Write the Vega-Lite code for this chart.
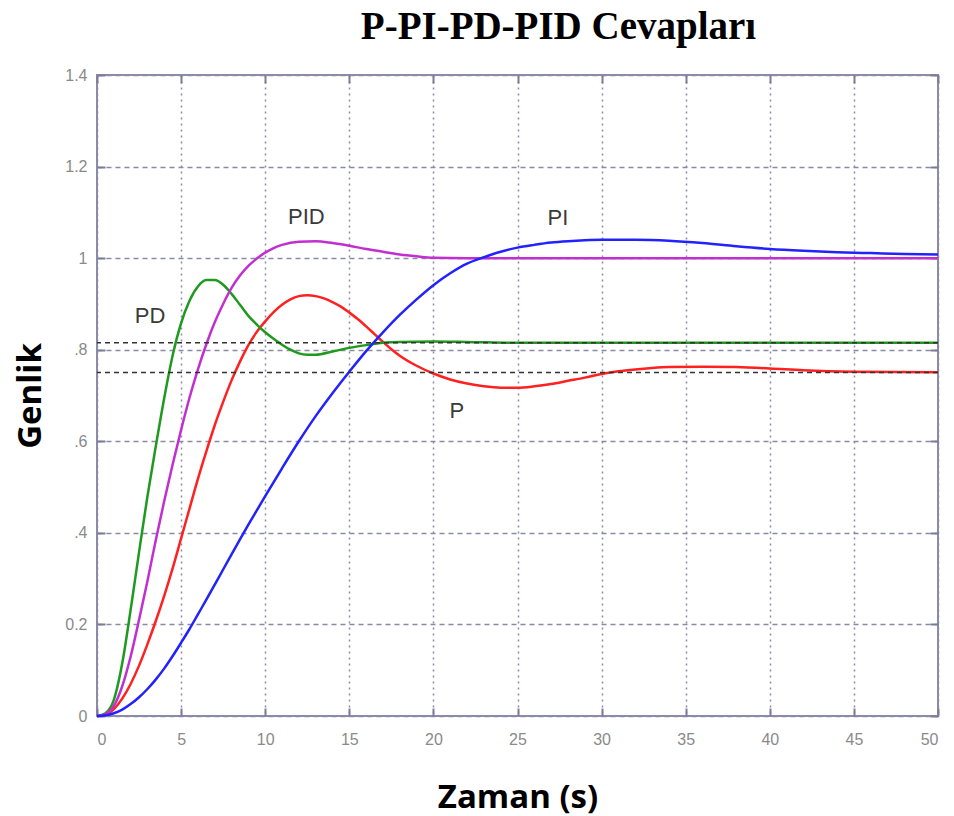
{
  "$schema": "https://vega.github.io/schema/vega-lite/v6.json",
  "autosize": "none",
  "width": 841,
  "height": 641,
  "padding": {"left": 97, "top": 75, "right": 16, "bottom": 100},
  "background": "white",
  "title": {
    "text": "P-PI-PD-PID Cevapları",
    "font": "Liberation Serif",
    "fontSize": 39,
    "fontWeight": "bold",
    "color": "#000000",
    "anchor": "middle",
    "dx": 41,
    "offset": 20
  },
  "config": {
    "view": {"stroke": "#8c8caa", "strokeWidth": 2},
    "axis": {
      "labelFont": "Liberation Sans",
      "labelFontSize": 16,
      "labelColor": "#8a8a8a",
      "titleFont": "Open Sans",
      "titleFontWeight": "bold",
      "titleFontSize": 33,
      "titleColor": "#000000",
      "domain": false,
      "tickColor": "#7c7c9a",
      "tickWidth": 2,
      "tickSize": -8,
      "gridColor": "#8a8aa6",
      "gridWidth": 1.5,
      "gridOpacity": 1
    }
  },
  "datasets": {
    "curves": [
      {"t": 0, "v": 0, "s": "P"}, {"t": 0.5, "v": 0.002, "s": "P"}, {"t": 1, "v": 0.015, "s": "P"}, {"t": 1.5, "v": 0.038, "s": "P"}, {"t": 2, "v": 0.07, "s": "P"}, {"t": 2.5, "v": 0.11, "s": "P"}, {"t": 3, "v": 0.157, "s": "P"}, {"t": 3.5, "v": 0.208, "s": "P"}, {"t": 4, "v": 0.263, "s": "P"}, {"t": 4.5, "v": 0.323, "s": "P"}, {"t": 5, "v": 0.388, "s": "P"}, {"t": 5.5, "v": 0.453, "s": "P"}, {"t": 6, "v": 0.518, "s": "P"}, {"t": 6.5, "v": 0.578, "s": "P"}, {"t": 7, "v": 0.635, "s": "P"}, {"t": 7.5, "v": 0.686, "s": "P"}, {"t": 8, "v": 0.733, "s": "P"}, {"t": 8.5, "v": 0.774, "s": "P"}, {"t": 9, "v": 0.81, "s": "P"}, {"t": 9.5, "v": 0.839, "s": "P"}, {"t": 10, "v": 0.862, "s": "P"}, {"t": 10.5, "v": 0.882, "s": "P"}, {"t": 11, "v": 0.898, "s": "P"}, {"t": 11.5, "v": 0.91, "s": "P"}, {"t": 12, "v": 0.917, "s": "P"}, {"t": 12.5, "v": 0.919, "s": "P"}, {"t": 13, "v": 0.917, "s": "P"}, {"t": 13.5, "v": 0.912, "s": "P"}, {"t": 14, "v": 0.904, "s": "P"}, {"t": 14.5, "v": 0.894, "s": "P"}, {"t": 15, "v": 0.881, "s": "P"}, {"t": 15.5, "v": 0.867, "s": "P"}, {"t": 16, "v": 0.851, "s": "P"}, {"t": 16.5, "v": 0.834, "s": "P"}, {"t": 17, "v": 0.817, "s": "P"}, {"t": 17.5, "v": 0.801, "s": "P"}, {"t": 18, "v": 0.787, "s": "P"}, {"t": 19, "v": 0.765, "s": "P"}, {"t": 20, "v": 0.748, "s": "P"}, {"t": 21, "v": 0.735, "s": "P"}, {"t": 22, "v": 0.726, "s": "P"}, {"t": 23, "v": 0.72, "s": "P"}, {"t": 24, "v": 0.717, "s": "P"}, {"t": 25, "v": 0.717, "s": "P"}, {"t": 26, "v": 0.72, "s": "P"}, {"t": 27, "v": 0.725, "s": "P"}, {"t": 28, "v": 0.732, "s": "P"}, {"t": 29, "v": 0.739, "s": "P"}, {"t": 30, "v": 0.747, "s": "P"}, {"t": 31, "v": 0.753, "s": "P"}, {"t": 32, "v": 0.757, "s": "P"}, {"t": 33, "v": 0.76, "s": "P"}, {"t": 34, "v": 0.762, "s": "P"}, {"t": 36, "v": 0.763, "s": "P"}, {"t": 38, "v": 0.762, "s": "P"}, {"t": 40, "v": 0.759, "s": "P"}, {"t": 42, "v": 0.755, "s": "P"}, {"t": 45, "v": 0.752, "s": "P"}, {"t": 50, "v": 0.751, "s": "P"},
      {"t": 0, "v": 0, "s": "PD"}, {"t": 0.5, "v": 0.006, "s": "PD"}, {"t": 1, "v": 0.035, "s": "PD"}, {"t": 1.5, "v": 0.115, "s": "PD"}, {"t": 2, "v": 0.232, "s": "PD"}, {"t": 2.5, "v": 0.358, "s": "PD"}, {"t": 3, "v": 0.48, "s": "PD"}, {"t": 3.5, "v": 0.59, "s": "PD"}, {"t": 4, "v": 0.695, "s": "PD"}, {"t": 4.5, "v": 0.788, "s": "PD"}, {"t": 5, "v": 0.858, "s": "PD"}, {"t": 5.5, "v": 0.907, "s": "PD"}, {"t": 6, "v": 0.938, "s": "PD"}, {"t": 6.5, "v": 0.952, "s": "PD"}, {"t": 7, "v": 0.952, "s": "PD"}, {"t": 7.5, "v": 0.942, "s": "PD"}, {"t": 8, "v": 0.922, "s": "PD"}, {"t": 8.5, "v": 0.898, "s": "PD"}, {"t": 9, "v": 0.874, "s": "PD"}, {"t": 9.5, "v": 0.855, "s": "PD"}, {"t": 10, "v": 0.838, "s": "PD"}, {"t": 10.5, "v": 0.824, "s": "PD"}, {"t": 11, "v": 0.811, "s": "PD"}, {"t": 11.5, "v": 0.8, "s": "PD"}, {"t": 12, "v": 0.792, "s": "PD"}, {"t": 12.5, "v": 0.789, "s": "PD"}, {"t": 13, "v": 0.789, "s": "PD"}, {"t": 14, "v": 0.796, "s": "PD"}, {"t": 15, "v": 0.804, "s": "PD"}, {"t": 16, "v": 0.81, "s": "PD"}, {"t": 17, "v": 0.815, "s": "PD"}, {"t": 18, "v": 0.817, "s": "PD"}, {"t": 20, "v": 0.818, "s": "PD"}, {"t": 22, "v": 0.817, "s": "PD"}, {"t": 25, "v": 0.815, "s": "PD"}, {"t": 50, "v": 0.815, "s": "PD"},
      {"t": 0, "v": 0, "s": "PID"}, {"t": 0.5, "v": 0.004, "s": "PID"}, {"t": 1, "v": 0.022, "s": "PID"}, {"t": 1.5, "v": 0.065, "s": "PID"}, {"t": 2, "v": 0.13, "s": "PID"}, {"t": 2.5, "v": 0.21, "s": "PID"}, {"t": 3, "v": 0.295, "s": "PID"}, {"t": 3.5, "v": 0.385, "s": "PID"}, {"t": 4, "v": 0.47, "s": "PID"}, {"t": 4.5, "v": 0.55, "s": "PID"}, {"t": 5, "v": 0.625, "s": "PID"}, {"t": 5.5, "v": 0.695, "s": "PID"}, {"t": 6, "v": 0.757, "s": "PID"}, {"t": 6.5, "v": 0.812, "s": "PID"}, {"t": 7, "v": 0.86, "s": "PID"}, {"t": 7.5, "v": 0.9, "s": "PID"}, {"t": 8, "v": 0.935, "s": "PID"}, {"t": 8.5, "v": 0.962, "s": "PID"}, {"t": 9, "v": 0.983, "s": "PID"}, {"t": 9.5, "v": 0.999, "s": "PID"}, {"t": 10, "v": 1.012, "s": "PID"}, {"t": 10.5, "v": 1.022, "s": "PID"}, {"t": 11, "v": 1.029, "s": "PID"}, {"t": 12, "v": 1.036, "s": "PID"}, {"t": 13, "v": 1.037, "s": "PID"}, {"t": 14, "v": 1.033, "s": "PID"}, {"t": 15, "v": 1.027, "s": "PID"}, {"t": 16, "v": 1.02, "s": "PID"}, {"t": 17, "v": 1.014, "s": "PID"}, {"t": 18, "v": 1.008, "s": "PID"}, {"t": 19, "v": 1.004, "s": "PID"}, {"t": 20, "v": 1.001, "s": "PID"}, {"t": 22, "v": 1.0, "s": "PID"}, {"t": 50, "v": 1.0, "s": "PID"},
      {"t": 0, "v": 0, "s": "PI"}, {"t": 0.5, "v": 0.0015, "s": "PI"}, {"t": 1, "v": 0.006, "s": "PI"}, {"t": 1.5, "v": 0.014, "s": "PI"}, {"t": 2, "v": 0.026, "s": "PI"}, {"t": 2.5, "v": 0.041, "s": "PI"}, {"t": 3, "v": 0.059, "s": "PI"}, {"t": 3.5, "v": 0.08, "s": "PI"}, {"t": 4, "v": 0.104, "s": "PI"}, {"t": 4.5, "v": 0.131, "s": "PI"}, {"t": 5, "v": 0.16, "s": "PI"}, {"t": 5.5, "v": 0.19, "s": "PI"}, {"t": 6, "v": 0.222, "s": "PI"}, {"t": 6.5, "v": 0.254, "s": "PI"}, {"t": 7, "v": 0.287, "s": "PI"}, {"t": 7.5, "v": 0.32, "s": "PI"}, {"t": 8, "v": 0.353, "s": "PI"}, {"t": 8.5, "v": 0.386, "s": "PI"}, {"t": 9, "v": 0.418, "s": "PI"}, {"t": 9.5, "v": 0.449, "s": "PI"}, {"t": 10, "v": 0.48, "s": "PI"}, {"t": 11, "v": 0.541, "s": "PI"}, {"t": 12, "v": 0.6, "s": "PI"}, {"t": 13, "v": 0.655, "s": "PI"}, {"t": 14, "v": 0.705, "s": "PI"}, {"t": 15, "v": 0.752, "s": "PI"}, {"t": 16, "v": 0.797, "s": "PI"}, {"t": 17, "v": 0.838, "s": "PI"}, {"t": 18, "v": 0.876, "s": "PI"}, {"t": 19, "v": 0.91, "s": "PI"}, {"t": 20, "v": 0.941, "s": "PI"}, {"t": 21, "v": 0.967, "s": "PI"}, {"t": 22, "v": 0.988, "s": "PI"}, {"t": 23, "v": 1.002, "s": "PI"}, {"t": 24, "v": 1.014, "s": "PI"}, {"t": 25, "v": 1.023, "s": "PI"}, {"t": 26, "v": 1.029, "s": "PI"}, {"t": 27, "v": 1.034, "s": "PI"}, {"t": 28, "v": 1.037, "s": "PI"}, {"t": 29, "v": 1.039, "s": "PI"}, {"t": 30, "v": 1.04, "s": "PI"}, {"t": 32, "v": 1.04, "s": "PI"}, {"t": 34, "v": 1.038, "s": "PI"}, {"t": 36, "v": 1.033, "s": "PI"}, {"t": 38, "v": 1.026, "s": "PI"}, {"t": 40, "v": 1.02, "s": "PI"}, {"t": 42, "v": 1.016, "s": "PI"}, {"t": 44, "v": 1.013, "s": "PI"}, {"t": 46, "v": 1.011, "s": "PI"}, {"t": 48, "v": 1.009, "s": "PI"}, {"t": 50, "v": 1.008, "s": "PI"}
    ],
    "levels": [{"v": 0.815}, {"v": 0.75}],
    "labels": [
      {"t": 3.15, "v": 0.874, "label": "PD"},
      {"t": 12.45, "v": 1.09, "label": "PID"},
      {"t": 27.4, "v": 1.088, "label": "PI"},
      {"t": 21.4, "v": 0.666, "label": "P"}
    ]
  },
  "resolve": {"axis": {"x": "independent", "y": "independent"}},
  "layer": [
    {
      "data": {"name": "curves"},
      "mark": {"type": "line", "strokeWidth": 2.5, "interpolate": "monotone"},
      "encoding": {
        "x": {
          "field": "t", "type": "quantitative",
          "scale": {"domain": [0, 50], "nice": false},
          "axis": {
            "orient": "bottom",
            "title": "Zaman (s)", "titlePadding": 34,
            "values": [0, 5, 10, 15, 20, 25, 30, 35, 40, 45, 50],
            "labelPadding": 23,
            "grid": true, "gridDash": [2, 4]
          }
        },
        "y": {
          "field": "v", "type": "quantitative",
          "scale": {"domain": [0, 1.4], "nice": false, "zero": false},
          "axis": {
            "orient": "left",
            "title": "Genlik", "titlePadding": 17,
            "values": [0, 0.2, 0.4, 0.6, 0.8, 1, 1.2, 1.4],
            "format": ".1~f",
            "labelExpr": "indexof(['0.4','0.6','0.8'], datum.label) >= 0 ? substring(datum.label, 1) : datum.label",
            "labelPadding": 18,
            "grid": true, "gridDash": [5, 4]
          }
        },
        "color": {
          "field": "s", "type": "nominal",
          "scale": {"domain": ["P", "PD", "PID", "PI"], "range": ["#ff2020", "#1f9a1f", "#c22fd0", "#2222ff"]},
          "legend": null
        },
        "detail": {"field": "s"}
      }
    },
    {
      "data": {"name": "levels"},
      "mark": {"type": "rule", "color": "#333333", "strokeWidth": 1.5, "strokeDash": [5, 4]},
      "encoding": {
        "y": {"field": "v", "type": "quantitative", "axis": null}
      }
    },
    {
      "data": {"name": "labels"},
      "mark": {"type": "text", "font": "Liberation Sans", "fontSize": 22, "color": "#3a3a3a"},
      "encoding": {
        "x": {"field": "t", "type": "quantitative", "axis": {"orient": "top", "labels": false, "title": null, "grid": false, "values": [0, 5, 10, 15, 20, 25, 30, 35, 40, 45, 50]}},
        "y": {"field": "v", "type": "quantitative", "axis": {"orient": "right", "labels": false, "title": null, "grid": false, "values": [0, 0.2, 0.4, 0.6, 0.8, 1, 1.2, 1.4]}},
        "text": {"field": "label"}
      }
    }
  ]
}
